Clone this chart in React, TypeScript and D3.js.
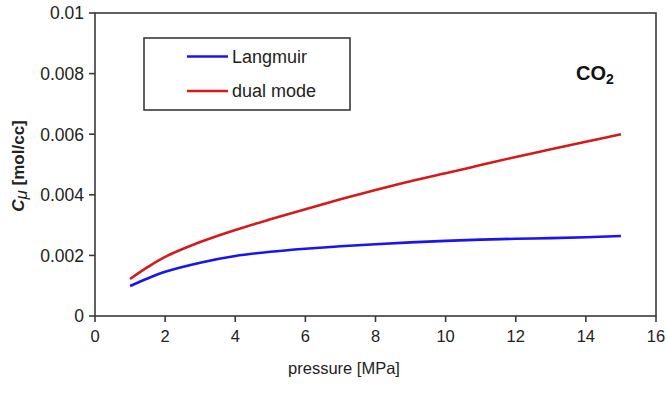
import React, { useEffect, useRef } from 'react';
import * as d3 from 'd3';

const pressure = [1, 1.5, 2, 3, 4, 5, 6, 7, 8, 9, 10, 11, 12, 13, 14, 15];
const langmuir = [0.00099, 0.00124, 0.00146, 0.00176, 0.00198, 0.00212, 0.00222, 0.0023, 0.00237, 0.00243, 0.00248, 0.00252, 0.00255, 0.00257, 0.0026, 0.00264];
const dualMode = [0.00122, 0.00161, 0.00195, 0.00244, 0.00284, 0.00319, 0.00352, 0.00385, 0.00416, 0.00445, 0.00471, 0.00498, 0.00525, 0.0055, 0.00575, 0.006];
const xTicks = [0, 2, 4, 6, 8, 10, 12, 14, 16];
const yTicks = [0, 0.002, 0.004, 0.006, 0.008, 0.01];

const W = 668;
const H = 393;
const font = 'Liberation Sans, Arial, sans-serif';

export default function App() {
  const svgRef = useRef<SVGSVGElement>(null);

  useEffect(() => {
    if (!svgRef.current) return;
    const svg = d3.select(svgRef.current);
    svg.selectAll('*').remove();

    const x = d3.scaleLinear().domain([0, 16]).range([95, 656]);
    const y = d3.scaleLinear().domain([0, 0.01]).range([316, 13]);
    const axisColor = '#3a3a3a';

    // plot frame
    svg.append('rect')
      .attr('x', 95).attr('y', 13)
      .attr('width', 656 - 95).attr('height', 316 - 13)
      .attr('fill', 'none').attr('stroke', axisColor).attr('stroke-width', 1.6);

    // x axis ticks
    const gx = svg.append('g').attr('transform', 'translate(0,316)');
    xTicks.forEach(t => {
      gx.append('line').attr('x1', x(t)).attr('x2', x(t)).attr('y1', 0).attr('y2', 6)
        .attr('stroke', axisColor).attr('stroke-width', 1.6);
      gx.append('text').attr('x', x(t)).attr('y', 26)
        .attr('text-anchor', 'middle').style('font-family', font).style('font-size', '16.5px')
        .attr('fill', '#222').text(String(t));
    });

    // y axis ticks
    const gy = svg.append('g').attr('transform', 'translate(95,0)');
    yTicks.forEach(t => {
      gy.append('line').attr('x1', -6).attr('x2', 0).attr('y1', y(t)).attr('y2', y(t))
        .attr('stroke', axisColor).attr('stroke-width', 1.6);
      gy.append('text').attr('x', -11).attr('y', y(t)).attr('dy', '0.36em')
        .attr('text-anchor', 'end').style('font-family', font).style('font-size', '17.5px')
        .attr('fill', '#222').text(t === 0 ? '0' : d3.format('.3~f')(t));
    });

    // axis titles
    svg.append('text').attr('x', 344).attr('y', 374)
      .attr('text-anchor', 'middle').style('font-family', font).style('font-size', '16.5px')
      .attr('fill', '#222').text('pressure [MPa]');

    const yl = svg.append('text')
      .attr('transform', 'translate(24,166) rotate(-90)')
      .attr('text-anchor', 'middle').style('font-family', font).style('font-size', '17px')
      .style('font-weight', 'bold').attr('fill', '#222');
    yl.append('tspan').style('font-style', 'italic').text('C');
    yl.append('tspan').style('font-style', 'italic').style('font-weight', 'normal').attr('dy', 3).text('μ');
    yl.append('tspan').attr('dy', -3).text(' [mol/cc]');

    // lines
    const line = d3.line<[number, number]>().x(d => x(d[0])).y(d => y(d[1])).curve(d3.curveCatmullRom.alpha(0.5));
    svg.append('path').datum(pressure.map((p, i) => [p, langmuir[i]] as [number, number]))
      .attr('d', line).attr('fill', 'none').attr('stroke', '#1a14f0').attr('stroke-width', 2.6);
    svg.append('path').datum(pressure.map((p, i) => [p, dualMode[i]] as [number, number]))
      .attr('d', line).attr('fill', 'none').attr('stroke', '#d41a1a').attr('stroke-width', 2.6);

    // legend
    svg.append('rect').attr('x', 144).attr('y', 38).attr('width', 206).attr('height', 72)
      .attr('fill', '#fff').attr('stroke', axisColor).attr('stroke-width', 1.6);
    const legend = [
      { name: 'Langmuir', color: '#1a14f0', yy: 56.5 },
      { name: 'dual mode', color: '#d41a1a', yy: 91 },
    ];
    legend.forEach(l => {
      svg.append('line').attr('x1', 187).attr('x2', 228).attr('y1', l.yy).attr('y2', l.yy)
        .attr('stroke', l.color).attr('stroke-width', 2.6);
      svg.append('text').attr('x', 232).attr('y', l.yy).attr('dy', '0.35em')
        .style('font-family', font).style('font-size', '18px').attr('fill', '#222').text(l.name);
    });

    // gas label
    const co2 = svg.append('text').attr('x', 576).attr('y', 80)
      .style('font-family', font).style('font-size', '20px').style('font-weight', 'bold').attr('fill', '#111');
    co2.append('tspan').text('CO');
    co2.append('tspan').attr('dy', 4).style('font-size', '14px').text('2');
  }, []);

  return (
    <svg ref={svgRef} width={W} height={H}
      style={{ position: 'absolute', left: 0, top: 0, background: '#fff' }} />
  );
}
